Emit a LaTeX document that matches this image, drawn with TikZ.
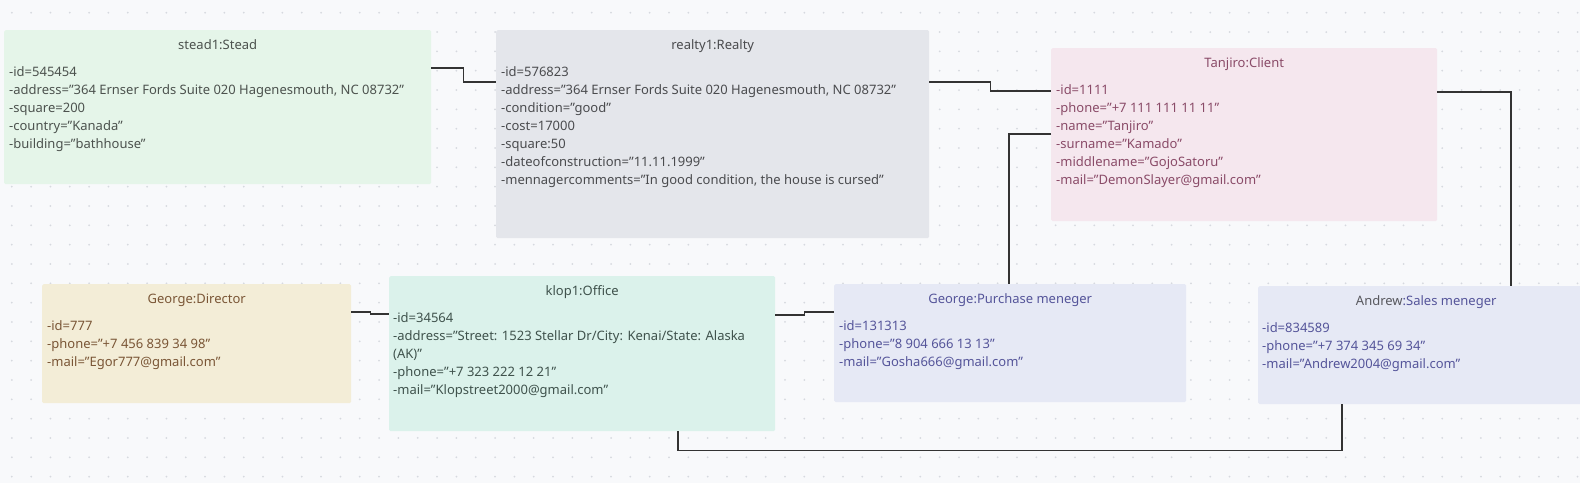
\documentclass[tikz,border=0pt]{standalone}
\usepackage{fontspec}
\setmainfont{Noto Sans}
\usepackage{tikz}
\usetikzlibrary{positioning}

\definecolor{bgcol}{HTML}{F8F9FB}
\definecolor{dotcol}{HTML}{D6D9DF}
\definecolor{linkcol}{HTML}{333333}
\definecolor{steadfill}{HTML}{E5F5E9}
\definecolor{realtyfill}{HTML}{E4E6EB}
\definecolor{clientfill}{HTML}{F5E7EE}
\definecolor{directorfill}{HTML}{F3EDD7}
\definecolor{officefill}{HTML}{DBF2EB}
\definecolor{staffill}{HTML}{E6E9F5}
\definecolor{steadtext}{HTML}{4C524E}
\definecolor{realtytext}{HTML}{4A4B4E}
\definecolor{clienttext}{HTML}{8A4B68}
\definecolor{directortext}{HTML}{7A5636}
\definecolor{officetext}{HTML}{3F524C}
\definecolor{staftext}{HTML}{55559A}
\definecolor{andrewtext}{HTML}{58585E}

\begin{document}
\begin{tikzpicture}[x=1pt,y=-1pt,
	obj box/.style={rectangle,inner sep=0,anchor=north west,rounded corners=1.5pt},
	obj title/.style={anchor=base,inner sep=0,font=\fontsize{13}{15}\selectfont},
	obj attr/.style={anchor=base west,inner sep=0,font=\fontsize{13}{15}\selectfont},
	link/.style={draw=linkcol,line width=1.6pt}
]

	\path[use as bounding box] (0,0) rectangle (1580,483);
	\clip (0,0) rectangle (1580,483);
	\fill[bgcol] (0,0) rectangle (1580,483);

	% dotted grid
	\foreach \i in {0,...,81} {
		\foreach \j in {0,...,24} {
			\fill[dotcol] ({11.8+19.33*\i},{12.7+19.33*\j}) circle (1pt);
		}
	}

	% boxes
	\node[obj box,fill=steadfill,minimum width=427pt,minimum height=154pt] (stead) at (4,30) {};
	\node[obj box,fill=realtyfill,minimum width=433pt,minimum height=208pt] (realty) at (496,30) {};
	\node[obj box,fill=clientfill,minimum width=386pt,minimum height=173pt] (client) at (1051,48) {};
	\node[obj box,fill=directorfill,minimum width=309pt,minimum height=119pt] (director) at (42,284) {};
	\node[obj box,fill=officefill,minimum width=386pt,minimum height=155pt] (office) at (389,276) {};
	\node[obj box,fill=staffill,minimum width=352pt,minimum height=118pt] (purchase) at (834,284) {};
	\node[obj box,fill=staffill,minimum width=336pt,minimum height=118pt] (sales) at (1258,286) {};

	% titles
	\node[obj title,text=steadtext] (stead title) at ([yshift=-19pt]stead.north) {stead1:Stead};
	\node[obj title,text=realtytext] (realty title) at ([yshift=-19pt]realty.north) {realty1:Realty};
	\node[obj title,text=clienttext] (client title) at ([yshift=-19pt]client.north) {Tanjiro:Client};
	\node[obj title,text=directortext] (director title) at ([yshift=-19pt]director.north) {George:Director};
	\node[obj title,text=officetext] (office title) at ([yshift=-19pt]office.north) {klop1:Office};
	\node[obj title,text=staftext] (purchase title) at ([yshift=-19pt]purchase.north) {George:Purchase meneger};
	\node[obj title,text=staftext] (sales title) at ([yshift=-19pt]sales.north) {\textcolor{andrewtext}{Andrew}:Sales meneger};

	% attributes
	\foreach \t [count=\i] in {-id=545454,{-address=”364 Ernser Fords Suite 020 Hagenesmouth, NC 08732”},-square=200,-country=”Kanada”,-building=”bathhouse”}
		\node[obj attr,text=steadtext] (stead\i) at ([xshift=5pt,yshift={-28-18*\i}]stead.north west) {\t};
	\foreach \t [count=\i] in {-id=576823,{-address=”364 Ernser Fords Suite 020 Hagenesmouth, NC 08732”},-condition=”good”,-cost=17000,-square:50,-dateofconstruction=”11.11.1999”,{-mennagercomments=”In good condition, the house is cursed”}}
		\node[obj attr,text=realtytext] (realty\i) at ([xshift=5pt,yshift={-28-18*\i}]realty.north west) {\t};
	\foreach \t [count=\i] in {-id=1111,-phone=”+7 111 111 11 11”,-name=”Tanjiro”,-surname=”Kamado”,-middlename=”GojoSatoru”,-mail=”DemonSlayer@gmail.com”}
		\node[obj attr,text=clienttext] (client\i) at ([xshift=5pt,yshift={-28-18*\i}]client.north west) {\t};
	\foreach \t [count=\i] in {-id=777,-phone=”+7 456 839 34 98”,-mail=”Egor777@gmail.com”}
		\node[obj attr,text=directortext] (director\i) at ([xshift=5pt,yshift={-28-18*\i}]director.north west) {\t};
	\foreach \t [count=\i] in {-id=34564,-address=”Street: 1523 Stellar Dr/City: Kenai/State: Alaska,(AK)”,-phone=”+7 323 222 12 21”,-mail=”Klopstreet2000@gmail.com”}
		\node[obj attr,text=officetext] (office\i) at ([xshift=4pt,yshift={-28-18*\i}]office.north west) {\t};
	\foreach \t [count=\i] in {-id=131313,-phone=”8 904 666 13 13”,-mail=”Gosha666@gmail.com”}
		\node[obj attr,text=staftext] (purchase\i) at ([xshift=5pt,yshift={-28-18*\i}]purchase.north west) {\t};
	\foreach \t [count=\i] in {-id=834589,-phone=”+7 374 345 69 34”,-mail=”Andrew2004@gmail.com”}
		\node[obj attr,text=staftext] (sales\i) at ([xshift=4pt,yshift={-28-18*\i}]sales.north west) {\t};

	% links
	\draw[link] ([yshift=-38pt]stead.north east) -- ++(32,0) |- ([yshift=-52pt]realty.north west);
	\draw[link] ([yshift=-52pt]realty.north east) -- ++(61,0) |- ([yshift=-43pt]client.north west);
	\draw[link] ([yshift=-44pt]client.north east) -| ([xshift=253pt]sales.north west);
	\draw[link] ([yshift=-86pt]client.north west) -| ([xshift=175pt]purchase.north west);
	\draw[link] ([yshift=-28pt]director.north east) -- ++(19,0) |- ([yshift=-38pt]office.north west);
	\draw[link] ([yshift=-39pt]office.north east) -- ++(29,0) |- ([yshift=-28pt]purchase.north west);
	\draw[link] ([xshift=289pt]office.south west) -- ++(0,19) -| ([xshift=84pt]sales.south west);
\end{tikzpicture}
\end{document}
